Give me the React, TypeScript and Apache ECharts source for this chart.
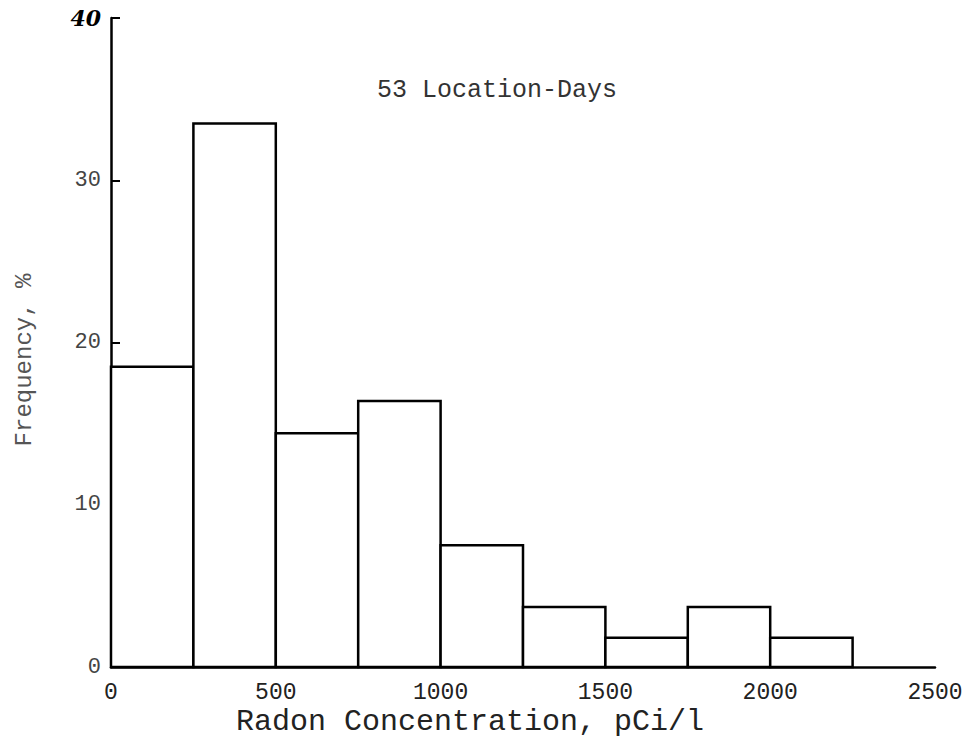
import React, { useEffect, useRef } from "react";
import * as echarts from "echarts";

const binStarts = [0, 250, 500, 750, 1000, 1250, 1500, 1750, 2000];
const binWidth = 250;
const frequencies = [18.5, 33.5, 14.4, 16.4, 7.5, 3.7, 1.8, 3.7, 1.8];
const xTicks = [0, 500, 1000, 1500, 2000, 2500];
const yTicks = [0, 10, 20, 30, 40];
const titleText = "53 Location-Days";
const xName = "Radon Concentration, pCi/l";
const yName = "Frequency, %";

const MONO = "'Liberation Mono', 'DejaVu Sans Mono', monospace";

export default function App() {
  const ref = useRef<HTMLDivElement>(null);
  useEffect(() => {
    if (!ref.current) return;
    const chart = echarts.init(ref.current, undefined, { renderer: "svg" });
    const data = binStarts.map((s, i) => [s, s + binWidth, frequencies[i]]);
    chart.setOption({
      animation: false,
      backgroundColor: "#ffffff",
      grid: {
        left: 111,
        right: 28,
        top: 18,
        bottom: 85,
        containLabel: false,
        outerBoundsMode: "none",
      },
      xAxis: {
        type: "value",
        min: xTicks[0],
        max: xTicks[xTicks.length - 1],
        interval: 500,
        axisLine: { show: true, onZero: false, lineStyle: { color: "#000", width: 2.5 } },
        axisTick: { show: false },
        splitLine: { show: false },
        axisLabel: {
          margin: 14,
          fontFamily: MONO,
          fontSize: 23,
          color: "#222",
          formatter: (v: number) => String(v),
        },
      },
      yAxis: {
        type: "value",
        min: yTicks[0],
        max: yTicks[yTicks.length - 1],
        interval: 10,
        axisLine: { show: true, lineStyle: { color: "#000", width: 2.5 } },
        axisTick: { show: true, inside: true, length: 9, lineStyle: { color: "#000", width: 2 } },
        splitLine: { show: false },
        axisLabel: {
          margin: 10,
          fontFamily: MONO,
          fontSize: 22,
          color: "#444",
          formatter: (v: number) => (v === 40 ? "{b|40}" : String(v)),
          rich: {
            b: {
              fontFamily: "'DejaVu Serif', serif",
              fontWeight: "bold",
              fontStyle: "italic",
              fontSize: 22,
              color: "#000",
            },
          },
        },
      },
      series: [
        {
          type: "custom",
          data,
          encode: { x: [0, 1], y: 2 },
          renderItem: (params: any, api: any) => {
            const x0 = api.value(0);
            const x1 = api.value(1);
            const y = api.value(2);
            const p0 = api.coord([x0, y]);
            const p1 = api.coord([x1, 0]);
            return {
              type: "rect",
              shape: { x: p0[0], y: p0[1], width: p1[0] - p0[0], height: p1[1] - p0[1] },
              style: { fill: "#fff", stroke: "#000", lineWidth: 2.5 },
            };
          },
        },
      ],
      graphic: [
        {
          type: "text",
          x: 497,
          y: 90,
          style: {
            text: titleText,
            fontFamily: MONO,
            fontSize: 25,
            fill: "#333",
            align: "center",
            verticalAlign: "middle",
          },
        },
        {
          type: "text",
          x: 470,
          y: 722,
          style: {
            text: xName,
            fontFamily: MONO,
            fontSize: 30,
            fill: "#222",
            align: "center",
            verticalAlign: "middle",
          },
        },
        {
          type: "text",
          x: 24,
          y: 360,
          rotation: Math.PI / 2,
          style: {
            text: yName,
            fontFamily: MONO,
            fontSize: 24,
            fill: "#555",
            align: "center",
            verticalAlign: "middle",
          },
        },
      ],
    });
    return () => chart.dispose();
  }, []);
  return (
    <div
      ref={ref}
      style={{ position: "fixed", left: 0, top: 0, width: 963, height: 752, background: "#fff" }}
    />
  );
}
